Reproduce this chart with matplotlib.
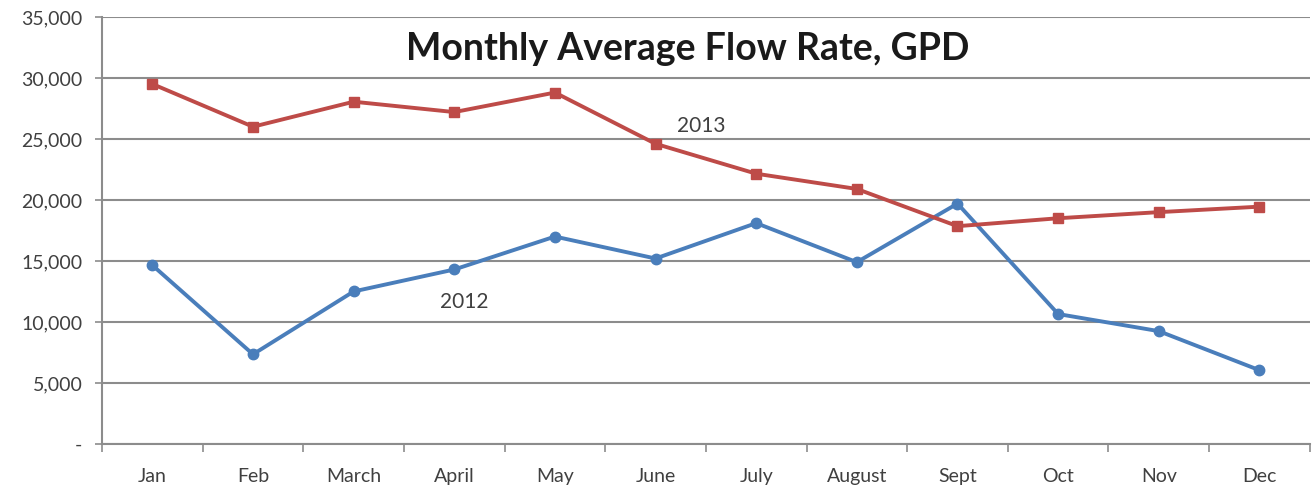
import matplotlib
matplotlib.use("Agg")
import matplotlib.pyplot as plt
from matplotlib.ticker import FuncFormatter, FixedLocator

# data
months = ["Jan", "Feb", "March", "April", "May", "June", "July",
          "August", "Sept", "Oct", "Nov", "Dec"]
flow_2012 = [14650, 7350, 12500, 14300, 17000, 15200, 18100,
             14900, 19700, 10650, 9250, 6050]
flow_2013 = [29500, 26000, 28050, 27200, 28800, 24600, 22150,
             20900, 17850, 18500, 19000, 19450]
y_ticks = [0, 5000, 10000, 15000, 20000, 25000, 30000, 35000]

plt.rcParams['font.family'] = ['Lato', 'DejaVu Sans']

fig = plt.figure(figsize=(13.15, 4.87), dpi=100)
ax = fig.add_axes([0.0776, 0.0883, 0.9184, 0.877])

x = list(range(len(months)))
grid_c = "#8c8c8c"
text_c = "#404040"

ax.plot(x, flow_2012, color="#4A7EBB", lw=2.8, marker="o", ms=7.5,
        markeredgecolor="#4A7EBB", zorder=3)
ax.plot(x, flow_2013, color="#BE4B48", lw=2.8, marker="s", ms=7.5,
        markeredgecolor="#BE4B48", zorder=4)

ax.set_xlim(-0.5, len(months) - 0.5)
ax.set_ylim(0, 35000)
ax.set_yticks(y_ticks)
ax.yaxis.set_major_formatter(FuncFormatter(lambda v, p: "-" if v == 0 else f"{int(v):,}"))
ax.yaxis.grid(True, color=grid_c, lw=1.5)
ax.set_axisbelow(True)

ax.set_xticks(x)
ax.set_xticklabels(months)
ax.xaxis.set_minor_locator(FixedLocator([i + 0.5 for i in x[:-1]] + [-0.5, 11.5]))
ax.tick_params(axis="x", which="major", length=0, pad=17, labelsize=14, colors=text_c)
ax.tick_params(axis="x", which="minor", length=6, width=1.2, color=grid_c)
ax.tick_params(axis="y", length=5, width=1.2, color=grid_c, labelsize=14,
               labelcolor=text_c, pad=9)

for s in ["top", "right"]:
    ax.spines[s].set_visible(False)
for s in ["left", "bottom"]:
    ax.spines[s].set_color(grid_c)
    ax.spines[s].set_linewidth(1.5)

ax.text(0.485, 0.925, "Monthly Average Flow Rate, GPD", transform=ax.transAxes,
        ha="center", va="center", fontsize=27, fontweight="bold", color="#1a1a1a")
ax.text(5.45, 26100, "2013", ha="center", va="center", fontsize=15, color=text_c)
ax.text(3.1, 11600, "2012", ha="center", va="center", fontsize=15, color=text_c)

fig.savefig("out.png", dpi=100)
